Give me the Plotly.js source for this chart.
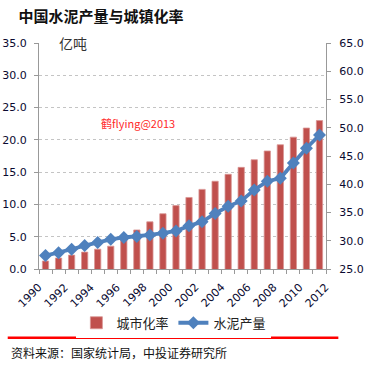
<!DOCTYPE html>
<html>
<head>
<meta charset="utf-8">
<script src="https://cdn.plot.ly/plotly-3.0.1.min.js"></script>
<style>html,body{margin:0;padding:0;background:#fff;}#chart{width:369px;height:369px;}</style>
</head>
<body>
<div id="chart"></div>
<script>
var years = [1990,1991,1992,1993,1994,1995,1996,1997,1998,1999,2000,2001,2002,2003,2004,2005,2006,2007,2008,2009,2010,2011];
var urbanRate = [26.41,26.94,27.46,27.99,28.51,29.04,30.48,31.91,33.35,34.78,36.22,37.66,39.09,40.53,41.76,42.99,44.34,45.89,46.99,48.34,49.95,51.27];
var cementOutput = [2.08,2.5,3.06,3.63,4.1,4.6,4.88,5.05,5.28,5.55,5.9,6.68,7.3,8.6,9.7,10.55,12.25,13.6,14.05,16.42,18.7,20.75];
var tickYears = ['1990','1992','1994','1996','1998','2000','2002','2004','2006','2008','2010','2012'];
var seriesNames = ['城市化率','水泥产量'];

var tickFont = {family:'DejaVu Sans, Verdana, sans-serif', size:11, color:'#0a0a30'};
var xRange = [years[0] - 0.5, years[years.length - 1] + 0.5];

var traces = [
  {type:'bar', x:years, y:urbanRate, yaxis:'y', name:seriesNames[0], width:0.48,
   marker:{color:'#C0504D', line:{color:'#D99694', width:0.8}}},
  {type:'scatter', mode:'lines+markers', x:years, y:cementOutput, yaxis:'y2', name:seriesNames[1],
   line:{color:'#4F81BD', width:3.8}, marker:{symbol:'diamond', size:10, color:'#4F81BD'}}
];

var annotations = tickYears.map(function(t){
  return {xref:'paper', yref:'paper', x:(Number(t) - xRange[0]) / (xRange[1] - xRange[0]), y:0, yshift:-9, xshift:2,
          text:t, showarrow:false, textangle:-45, xanchor:'right', yanchor:'top', font:tickFont};
});
annotations.push({xref:'paper', yref:'paper', x:0.062, y:1.0, xanchor:'left', yanchor:'middle',
  text:'亿吨', showarrow:false, bgcolor:'#fff', font:{family:'Noto Sans CJK SC', size:14, color:'#333'}});
annotations.push({xref:'paper', yref:'paper', x:0.21, y:0.645, xanchor:'left', yanchor:'middle',
  text:'鹤flying@2013', showarrow:false, font:{family:'Noto Sans CJK SC, Arial', size:11, color:'#ff2a2a'}});
annotations.push({xref:'paper', yref:'paper', x:-0.105, y:-0.37, xanchor:'left', yanchor:'middle',
  text:'资料来源：国家统计局，中投证券研究所', showarrow:false, font:{family:'Noto Sans CJK SC', size:12, color:'#111'}});

var xTickVals = [];
for (var i = 0; i <= years.length; i++) xTickVals.push(xRange[0] + i);

var layout = {
  width:369, height:369,
  margin:{l:39, r:43, t:43, b:100},
  paper_bgcolor:'#fff', plot_bgcolor:'#fff',
  title:{text:'<b>中国水泥产量与城镇化率</b>', x:0.05, xanchor:'left', y:0.955, yanchor:'middle',
         font:{family:'Noto Sans CJK SC', size:15, color:'#111'}},
  showlegend:true,
  legend:{orientation:'h', x:0.47, xanchor:'center', y:-0.238, yanchor:'middle',
          font:{family:'Noto Sans CJK SC', size:13, color:'#222'}, traceorder:'normal'},
  xaxis:{range:xRange, tickvals:xTickVals, ticktext:xTickVals.map(function(){return '';}),
         ticks:'outside', ticklen:4, tickcolor:'#999', showline:true, linecolor:'#999', linewidth:1,
         showgrid:false, zeroline:false, fixedrange:true},
  yaxis:{range:[25,65], dtick:5, tickformat:'.1f', side:'right', ticks:'outside',
         ticklen:4, tickcolor:'#999', ticklabelstandoff:6, showline:true, linecolor:'#999', linewidth:1, showgrid:false,
         zeroline:false, tickfont:tickFont},
  yaxis2:{range:[0,35], dtick:5, tickformat:'.1f', overlaying:'y', side:'left', ticks:'outside', ticklen:4, tickcolor:'#999',
         ticklabelstandoff:5,
         showline:true, linecolor:'#999', linewidth:1, showgrid:true, gridcolor:'#c4c4c4', griddash:'dot',
         gridwidth:1, zeroline:false, tickfont:tickFont},
  annotations:annotations,
  shapes:[{type:'line', xref:'paper', yref:'paper', x0:-0.109, x1:1.043, y0:-0.304, y1:-0.304,
           line:{color:'#ff0000', width:2.5}}],
  bargap:0.5
};

Plotly.newPlot('chart', traces, layout, {displayModeBar:false, staticPlot:true});
</script>
</body>
</html>
